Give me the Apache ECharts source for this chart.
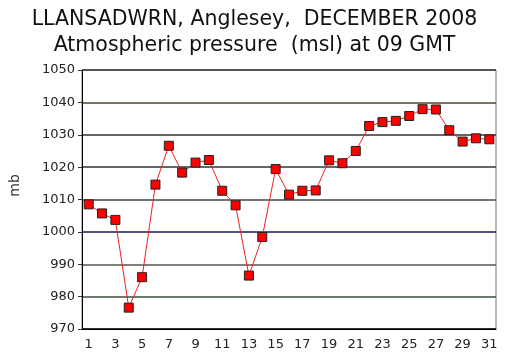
<!DOCTYPE html>
<html><head><meta charset="utf-8">
<script src="https://cdn.jsdelivr.net/npm/echarts@6/dist/echarts.min.js"></script>
<style>html,body{margin:0;padding:0;background:#fff}#c{width:509px;height:363px}</style>
</head><body><div id="c"></div>
<script>
var days = ["1","2","3","4","5","6","7","8","9","10","11","12","13","14","15","16","17","18","19","20","21","22","23","24","25","26","27","28","29","30","31"];
var pressure = [1008.5,1005.7,1003.7,976.6,986.0,1014.6,1026.6,1018.3,1021.4,1022.2,1012.7,1008.2,986.5,998.4,1019.4,1011.5,1012.7,1012.8,1022.1,1021.2,1025.0,1032.7,1033.9,1034.3,1035.8,1037.9,1037.8,1031.4,1027.9,1028.9,1028.6];
var yTicks = [970,980,990,1000,1010,1020,1030,1040,1050];
var titleLines = ["LLANSADWRN, Anglesey,  DECEMBER 2008","Atmospheric pressure  (msl) at 09 GMT"];

var chart = echarts.init(document.getElementById('c'), null, {renderer:'canvas'});
var font = 'DejaVu Sans, Verdana, sans-serif';
chart.setOption({
  animation:false,
  backgroundColor:'#fff',
  title:{
    text: titleLines.join('\n'),
    left:'center', top:2,
    textStyle:{fontFamily:font, fontSize:20.5, fontWeight:'normal', color:'#111', lineHeight:26}
  },
  grid:{left:82, top:70, right:13, bottom:34, show:true, borderColor:'#777', borderWidth:1},
  xAxis:{
    type:'category', data:days, boundaryGap:true,
    axisLine:{lineStyle:{color:'#000', width:1}},
    axisTick:{show:false},
    axisLabel:{interval:1, fontFamily:font, fontSize:13, color:'#222', margin:9},
    splitLine:{show:false}
  },
  yAxis:{
    type:'value', min:yTicks[0], max:yTicks[yTicks.length-1], interval:10,
    name:'mb', nameLocation:'middle', nameGap:60, nameRotate:90,
    nameTextStyle:{fontFamily:font, fontSize:14, color:'#333', padding:[0,0,0,28]},
    axisLine:{show:true, lineStyle:{color:'#000', width:1}},
    axisTick:{show:true, length:4, lineStyle:{color:'#333'}},
    axisLabel:{fontFamily:font, fontSize:13, color:'#222', margin:7, formatter:function(v){return String(v);}},
    splitLine:{show:true, lineStyle:{width:1.5, color:['#000','#3d4d3d','#555550','#1a1a55','#444','#333','#333','#4d4438','#333']}}
  },
  series:[{
    type:'line', data:pressure, showAllSymbol:true,
    lineStyle:{color:'#ee2222', width:1},
    symbol:'rect', symbolSize:9,
    itemStyle:{color:'#ff0000', borderColor:'#222', borderWidth:1}
  }]
});
</script></body></html>
